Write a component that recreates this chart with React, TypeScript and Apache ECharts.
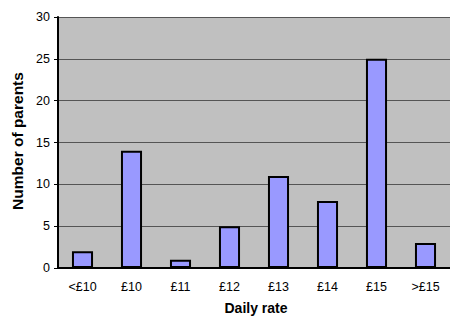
import React, { useEffect, useRef } from "react";
import * as echarts from "echarts";

const categories = ["<£10", "£10", "£11", "£12", "£13", "£14", "£15", ">£15"];
const parents = [2, 14, 1, 5, 11, 8, 25, 3];
const yTitle = "Number of parents";
const xTitle = "Daily rate";

export default function App() {
  const ref = useRef<HTMLDivElement>(null);
  useEffect(() => {
    document.body.style.margin = "0";
    const chart = echarts.init(ref.current!, null, { renderer: "svg" });
    const font = "Arial, 'Liberation Sans', sans-serif";
    chart.setOption({
      animation: false,
      backgroundColor: "#ffffff",
      grid: { left: 58, top: 17, width: 394, height: 251, backgroundColor: "#C0C0C0", show: true, borderWidth: 0 },
      xAxis: {
        type: "category",
        data: categories,
        axisLine: { lineStyle: { color: "#000", width: 2 } },
        axisTick: { inside: true, length: 4, lineStyle: { color: "#000", width: 1 } },
        axisLabel: { color: "#000", fontSize: 12.5, fontFamily: font, margin: 12 },
      },
      yAxis: {
        type: "value",
        min: 0,
        max: 30,
        interval: 5,
        axisLine: { show: true, lineStyle: { color: "#000", width: 2 } },
        axisTick: { show: true, length: 4, lineStyle: { color: "#000", width: 1 } },
        axisLabel: { color: "#000", fontSize: 12.5, fontFamily: font, margin: 8 },
        splitLine: { lineStyle: { color: "#555", width: 1 } },
      },
      series: [
        {
          type: "bar",
          data: parents,
          barWidth: "43%",
          itemStyle: { color: "#9999FF", borderColor: "#000", borderWidth: 2 },
        },
      ],
      graphic: [
        {
          type: "text",
          x: 17,
          y: 141,
          rotation: Math.PI / 2,
          style: { text: yTitle, fontSize: 15.5, fontWeight: "bold", fontFamily: font, fill: "#000", align: "center", verticalAlign: "middle" },
        },
        {
          type: "text",
          x: 256,
          y: 308,
          style: { text: xTitle, fontSize: 14, fontWeight: "bold", fontFamily: font, fill: "#000", align: "center", verticalAlign: "middle" },
        },
      ],
    });
    return () => chart.dispose();
  }, []);
  return <div ref={ref} style={{ width: 450, height: 317 }} />;
}
